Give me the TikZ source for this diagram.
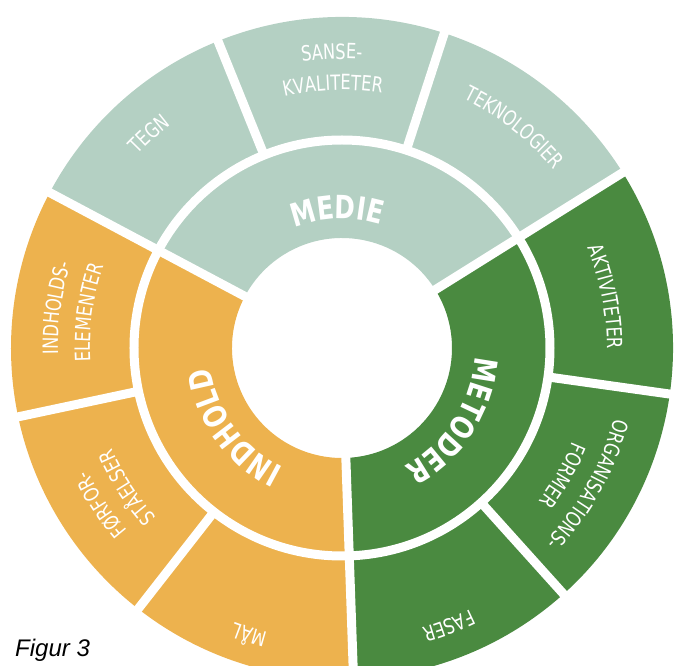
\documentclass[tikz,border=0pt]{standalone}
\usepackage{fontspec}
\newfontfamily\wheelfont{DejaVu Sans Condensed}[FakeStretch=0.86]
\setmainfont{Liberation Sans}
\usetikzlibrary{decorations.text}
\definecolor{colorMedie}{HTML}{B4D0C3}
\definecolor{colorIndhold}{HTML}{EDB24E}
\definecolor{colorMetoder}{HTML}{4A8A40}
\newcommand\radiusCore{110pt}
\newcommand\radiusMid{208pt}
\newcommand\radiusOuter{331pt}
\newcommand\gapWidth{9pt}
\newcommand\drawSector[3]{
	\fill[#1] (#2:\radiusCore) arc[start angle=#2, end angle=#3, radius=\radiusCore] --
	(#3:\radiusOuter) arc[start angle=#3, end angle=#2, radius=\radiusOuter] -- cycle;
}
\newcommand\ringLabel[4]{
	\path[decorate, decoration={text along path, text align=center, text color=white,
		text={|\wheelfont#3|#4}}]
	(#1+50:#2) arc[start angle=#1+50, end angle=#1-50, radius=#2];
}
\newcommand\fontInner{\bfseries\fontsize{32}{32}\selectfont}
\newcommand\fontOuter{\fontsize{21}{21}\selectfont}

\begin{document}
\begin{tikzpicture}
	\useasboundingbox (-342pt,-318pt) rectangle (336pt,348pt);
	
	\drawSector{colorMedie}{32}{152}
	\drawSector{colorIndhold}{152}{272}
	\drawSector{colorMetoder}{272}{392}
	
	\tikzset{gapline/.style={white, line width=\gapWidth}}
	\foreach \a in {32,152,272}{
		\draw[gapline] (\a:100pt) -- (\a:340pt);
	}
	\foreach \a in {72,112,192,232,312,352}{
		\draw[gapline] (\a:\radiusMid) -- (\a:340pt);
	}
	\draw[gapline] (0,0) circle[radius=\radiusMid];
	
	\ringLabel{92}{129pt}{\fontInner}{MEDIE}
	\ringLabel{216}{133pt}{\fontInner}{INDHOLD}
	\ringLabel{327}{133pt}{\fontInner}{METODER}
	
	\ringLabel{132}{281pt}{\fontOuter}{TEGN}
	\ringLabel{92}{289pt}{\fontOuter}{SANSE-}
	\ringLabel{92}{258pt}{\fontOuter}{KVALITETER}
	\ringLabel{52}{277pt}{\fontOuter}{TEKNOLOGIER}
	\ringLabel{11}{265pt}{\fontOuter}{AKTIVITETER}
	\ringLabel{331}{281pt}{\fontOuter}{ORGANISATIONS-}
	\ringLabel{330}{249pt}{\fontOuter}{FORMER}
	\ringLabel{172}{284pt}{\fontOuter}{INDHOLDS-}
	\ringLabel{172}{252pt}{\fontOuter}{ELEMENTER}
	\ringLabel{213}{282pt}{\fontOuter}{FØRFOR-}
	\ringLabel{213}{251pt}{\fontOuter}{STÅELSER}
	\ringLabel{252}{294pt}{\fontOuter}{MÅL}
	\ringLabel{291}{291pt}{\fontOuter}{FASER}
	
	\node[font=\itshape\fontsize{24}{24}\selectfont, anchor=base west, inner sep=0pt]
	(figLabel) at (-327pt,-309pt) {Figur 3};
\end{tikzpicture}
\end{document}
